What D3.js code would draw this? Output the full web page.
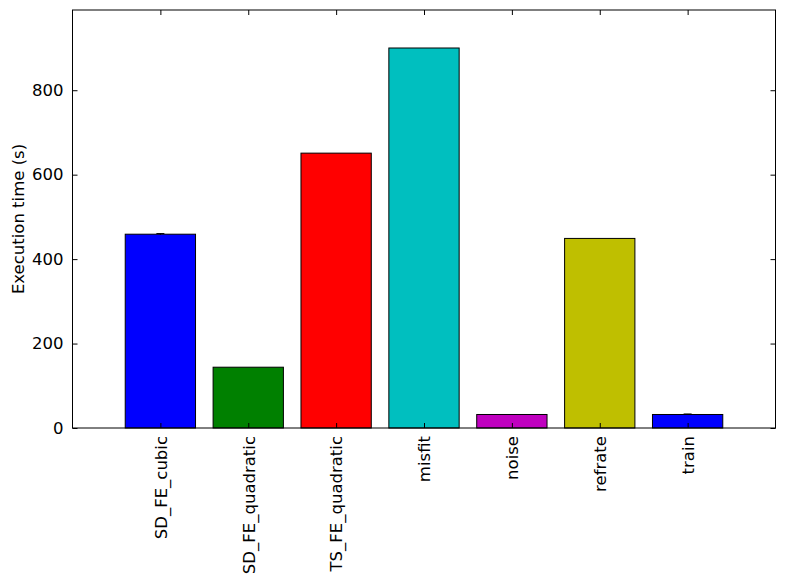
<!DOCTYPE html>
<html>
<head>
<meta charset="utf-8">
<script src="https://cdn.jsdelivr.net/npm/d3@7"></script>
<style>
    body { margin: 0; background: #fff; }
    svg { font-family: "DejaVu Sans", sans-serif; }
</style>
</head>
<body>
<svg width="785" height="582"></svg>
<script>
const categories = ["SD_FE_cubic", "SD_FE_quadratic", "TS_FE_quadratic", "misfit", "noise", "refrate", "train"];
const times = [459, 144, 651, 900, 32, 449, 32];
const errors = [1.5, 0, 0, 0, 0, 0, 1.2];
const colors = ["#0000ff", "#008000", "#ff0000", "#00bfbf", "#bf00bf", "#bfbf00", "#0000ff"];
const yTicks = [0, 200, 400, 600, 800];

const svg = d3.select("svg");
const margin = { left: 72.5, top: 10, right: 775.5, bottom: 428 };
const fontSize = "16.5px";

const x = d3.scaleLinear()
    .domain([-1, categories.length])
    .range([margin.left, margin.right]);

const y = d3.scaleLinear()
    .domain([0, 990])
    .range([margin.bottom, margin.top]);

const barW = x(0.8) - x(0);

const g = svg.append("g");

// bars
g.selectAll("rect.bar")
    .data(times)
    .join("rect")
    .attr("class", "bar")
    .attr("x", (d, i) => x(i) - barW / 2)
    .attr("y", d => y(d))
    .attr("width", barW)
    .attr("height", d => y(0) - y(d))
    .attr("fill", (d, i) => colors[i])
    .attr("stroke", "#000")
    .attr("stroke-width", 1);

// error bars
const err = g.append("g").attr("stroke", "#000").attr("stroke-width", 1);
times.forEach((d, i) => {
    if (!errors[i]) return;
    err.append("line")
        .attr("x1", x(i)).attr("x2", x(i))
        .attr("y1", y(d - errors[i])).attr("y2", y(d + errors[i]));
    err.append("line")
        .attr("x1", x(i) - 4).attr("x2", x(i) + 4)
        .attr("y1", y(d + errors[i])).attr("y2", y(d + errors[i]));
});

// axes
const tickLen = 5;
const yAxis = g.append("g")
    .attr("transform", `translate(${margin.left},0)`)
    .call(d3.axisLeft(y).tickValues(yTicks).tickSizeInner(-tickLen).tickSizeOuter(0).tickPadding(9));
const yAxisR = g.append("g")
    .attr("transform", `translate(${margin.right},0)`)
    .call(d3.axisRight(y).tickValues(yTicks).tickSizeInner(-tickLen).tickSizeOuter(0).tickFormat(""));

const xIdx = d3.range(categories.length);
const xAxis = g.append("g")
    .attr("transform", `translate(0,${margin.bottom})`)
    .call(d3.axisBottom(x).tickValues(xIdx).tickSizeInner(-tickLen).tickSizeOuter(0).tickFormat(i => categories[i]));
const xAxisT = g.append("g")
    .attr("transform", `translate(0,${margin.top})`)
    .call(d3.axisTop(x).tickValues(xIdx).tickSizeInner(-tickLen).tickSizeOuter(0).tickFormat(""));

[yAxis, yAxisR, xAxis, xAxisT].forEach(a => {
    a.select(".domain").remove();
    a.selectAll(".tick line").attr("stroke", "#000");
    a.selectAll("text").attr("fill", "#000").attr("font-size", fontSize).attr("font-family", "DejaVu Sans, sans-serif");
});

xAxis.selectAll(".tick text")
    .attr("transform", "rotate(-90)")
    .attr("text-anchor", "end")
    .attr("x", -8)
    .attr("y", 0)
    .attr("dy", "0.35em");

// frame
g.append("rect")
    .attr("x", margin.left)
    .attr("y", margin.top)
    .attr("width", margin.right - margin.left)
    .attr("height", margin.bottom - margin.top)
    .attr("fill", "none")
    .attr("stroke", "#000")
    .attr("stroke-width", 1);

// y label
svg.append("text")
    .attr("transform", `translate(24,${(margin.top + margin.bottom) / 2}) rotate(-90)`)
    .attr("text-anchor", "middle")
    .attr("font-size", fontSize)
    .text("Execution time (s)");
</script>
</body>
</html>
